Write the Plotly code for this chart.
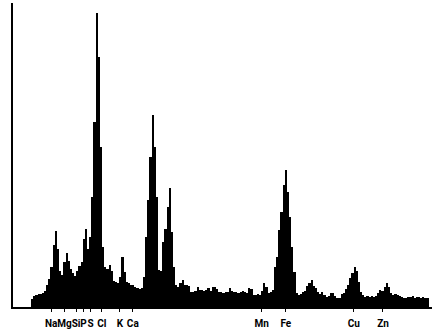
import plotly.graph_objects as go
import numpy as np

# Spectrum: counts per 0.05 keV channel, starting at 0.50 keV
start_kev = 0.50
channel_kev = 0.05
counts = [
    8, 11, 12, 13, 13, 14, 16, 22, 28, 40,
    62, 76, 58, 36, 32, 45, 54, 46, 38, 34,
    31, 36, 41, 45, 68, 78, 58, 70, 110, 185,
    294, 250, 160, 60, 40, 38, 42, 36, 26, 25,
    24, 30, 50, 35, 25, 24, 22, 22, 20, 19,
    18, 19, 30, 70, 107, 150, 192, 160, 110, 37,
    36, 65, 78, 100, 119, 75, 40, 22, 20, 24,
    27, 22, 22, 21, 15, 15, 16, 20, 17, 17,
    16, 17, 19, 16, 20, 20, 18, 15, 15, 14,
    15, 15, 19, 16, 15, 15, 14, 15, 16, 15,
    14, 19, 18, 12, 12, 13, 12, 16, 24, 20,
    14, 15, 17, 40, 50, 77, 95, 122, 137, 115,
    90, 60, 35, 14, 12, 13, 15, 16, 21, 24,
    27, 21, 19, 15, 13, 15, 12, 10, 11, 14,
    14, 11, 9, 9, 13, 14, 18, 22, 29, 34,
    40, 36, 25, 15, 12, 10, 11, 10, 11, 10,
    11, 14, 17, 16, 20, 24, 20, 14, 12, 13,
    12, 11, 10, 9, 9, 10, 10, 11, 9, 10,
    10, 9, 10, 9, 9,
]
energies = start_kev + channel_kev * np.arange(len(counts))

# Element labels (keV positions under the axis)
element_labels = ["Na", "Mg", "Si", "P", "S", "Cl", "K", "Ca", "Mn", "Fe", "Cu", "Zn"]
element_pos = [0.94, 1.25, 1.52, 1.69, 1.86, 2.12, 2.54, 2.84, 5.84, 6.40, 7.98, 8.66]

fig = go.Figure()
fig.add_trace(go.Bar(
    x=energies, y=counts, width=channel_kev,
    marker=dict(color="black", line=dict(width=0)),
    hoverinfo="skip",
))

fig.update_layout(
    width=439, height=334,
    margin=dict(l=13, r=7, t=3, b=27),
    paper_bgcolor="white", plot_bgcolor="white",
    showlegend=False, bargap=0,
    xaxis=dict(
        range=[0.053, 9.80], showgrid=False, zeroline=False,
        showline=True, linecolor="black", linewidth=2,
        tickmode="array", tickvals=element_pos, ticktext=element_labels,
        ticks="outside", ticklen=3, tickwidth=1, tickcolor="black",
        tickangle=0, ticklabelstandoff=3,
        tickfont=dict(family="Roboto, DejaVu Sans Condensed, sans-serif",
                      size=10, color="black", weight="bold"),
    ),
    yaxis=dict(
        range=[0, 304], showgrid=False, zeroline=False,
        showline=True, linecolor="black", linewidth=2,
        showticklabels=False, ticks="",
    ),
)

fig.write_html("out.html", config={"displayModeBar": False},
               post_script="document.body.style.margin='0px';")
